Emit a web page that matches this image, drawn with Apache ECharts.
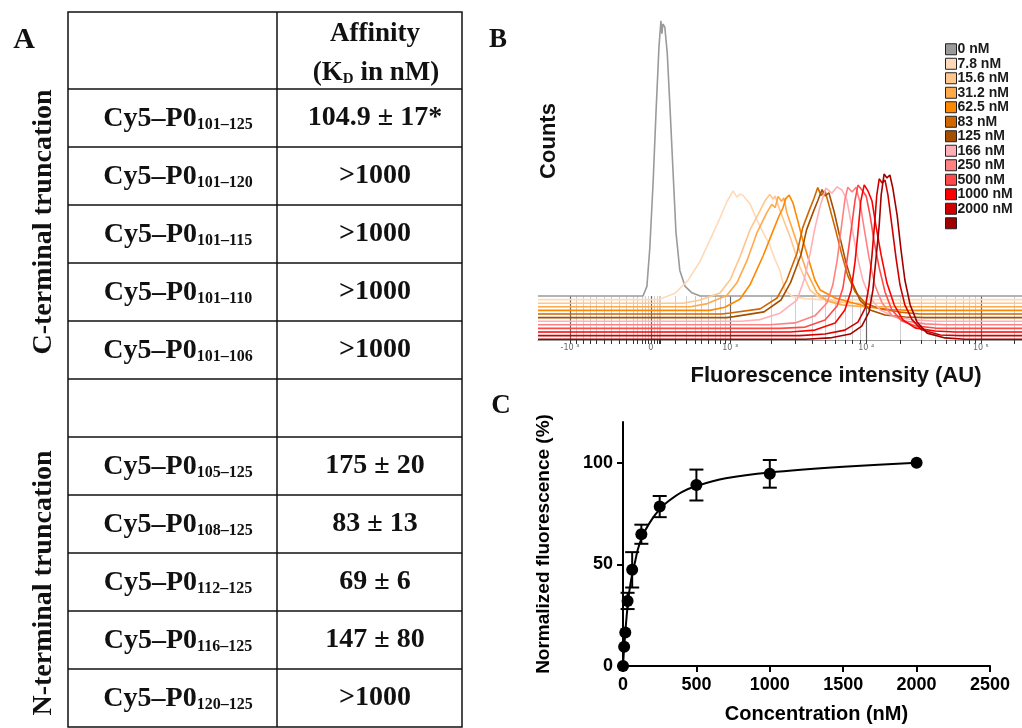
<!DOCTYPE html>
<html><head><meta charset="utf-8">
<script src="https://cdn.jsdelivr.net/npm/echarts@6/dist/echarts.min.js"></script>
<style>html,body{margin:0;padding:0;background:#fff}#c{width:1022px;height:728px}</style>
</head><body><div id="c"></div>
<script>
// ---------- Panel A: table ----------
const peptideRanges = ['101–125','101–120','101–115','101–110','101–106','','105–125','108–125','112–125','116–125','120–125'];
const affinities = ['104.9 ± 17*','>1000','>1000','>1000','>1000','','175 ± 20','83 ± 13','69 ± 6','147 ± 80','>1000'];
const groupLabels = ['C-terminal truncation','N-terminal truncation'];

// ---------- Panel B: flow cytometry histograms ----------
const concLabels = ['0 nM','7.8 nM','15.6 nM','31.2 nM','62.5 nM','83 nM','125 nM','166 nM','250 nM','500 nM','1000 nM','2000 nM'];
const histColors = ['#9a9a9a','#ffdab8','#ffc68e','#ffa94a','#ff8800','#d06600','#a64f00','#ffb0b6','#ff8282','#ff4a4a','#ff0000','#d00000','#a00000'];
// [channel, counts]
const h0     = [[0,0],[217,0],[225,3],[231,15],[238,36],[244,58],[250,78],[254,86],[256,82],[258,85],[262,84],[267,76],[273,58],[279,39],[285,20],[293,8],[304,3],[318,1],[335,0],[1000,0]];
const h1     = [[0,0],[250,0],[283,2],[310,6],[335,12],[355,18.5],[376,25.5],[390,30.5],[403,34],[411,32],[417,33],[424,32.5],[432,31],[438,30],[452,25],[465,21],[479,17],[490,12.5],[500,9],[510,3],[525,1],[552,0.3],[583,0],[1000,0]];
const h2     = [[0,0],[300,0],[335,1],[376,3.2],[397,7.3],[417,14.4],[438,22.9],[459,29],[469,32],[479,34],[486,32.5],[490,33.5],[500,29],[510,25],[521,20.7],[541,11.3],[562,4.1],[583,1.6],[614,0.5],[650,0],[1000,0]];
const h3     = [[0,0],[315,0],[350,1],[390,3.5],[411,7.5],[432,14.5],[452,23],[473,29.5],[483,32],[490,31],[496,34.5],[503,33],[508,34],[514,29.5],[524,25],[535,20],[555,11],[576,4.5],[597,1.8],[628,0.6],[670,0],[1000,0]];
const h4     = [[0,0],[355,0],[386,1],[417,3.5],[438,8],[465,17],[486,25],[498,29.5],[506,32],[512,35],[519,36],[527,33.5],[535,29],[547,22],[562,14.5],[572,9.5],[583,6.4],[614,3.9],[651,2.3],[686,1],[727,0.3],[769,0],[1000,0]];
const h5     = [[0,0],[380,0],[397,0.3],[459,1.6],[494,5],[514,10.6],[535,19],[547,27],[562,33],[570,36],[578,39.5],[585,37],[593,38.5],[603,33],[616,25.6],[628,18.4],[640,12],[655,7],[676,3.4],[707,1.6],[748,0.6],[789,0],[1000,0]];
const h6     = [[0,0],[390,0],[405,0.3],[467,1.8],[502,5.5],[522,11],[543,19.5],[555,27.5],[570,33.5],[578,36.5],[587,40],[593,38],[601,39],[612,33],[624,25],[636,17.4],[649,11],[665,5.5],[686,2.4],[717,0.8],[758,0.2],[800,0],[1000,0]];
const h7     = [[0,0],[420,0],[459,0.5],[500,2.5],[535,6.6],[550,13],[562,21],[572,29],[583,36],[595,41.6],[607,40],[618,42],[628,41],[638,38],[649,29],[659,20.7],[671,12.9],[686,7.3],[707,3.5],[738,1.3],[779,0.4],[820,0],[1000,0]];
const h8     = [[0,0],[479,0],[531,0.6],[572,2.8],[597,6.8],[609,12.4],[618,20],[626,29.6],[634,39],[640,43],[649,41.5],[657,43],[665,38.4],[674,30],[684,20.9],[696,12.4],[711,6.8],[731,3],[758,1.2],[800,0.3],[841,0],[1000,0]];
const h9     = [[0,0],[500,0],[552,0.4],[593,2.6],[618,7],[630,12.6],[638,20.8],[647,30.8],[655,40],[661,44.8],[669,43.3],[678,41.4],[686,35.4],[694,27.6],[705,18.9],[717,11.4],[731,5.8],[752,2.3],[779,0.8],[820,0.1],[851,0],[1000,0]];
const h10    = [[0,0],[521,0],[572,0.6],[614,2.8],[634,6.9],[647,13],[655,21.9],[661,31],[667,41],[674,46],[682,44],[690,41],[698,33.4],[709,24],[721,15.3],[736,8.4],[754,3.8],[779,1.3],[820,0.3],[862,0],[1000,0]];
const h11    = [[0,0],[541,0],[593,0.5],[634,1.7],[661,4.2],[676,8.6],[684,15.8],[690,25],[696,36],[700,44],[705,49],[711,47.7],[717,48.6],[723,44],[731,34.6],[740,24],[748,15.8],[758,9.6],[773,4.9],[793,1.8],[831,0.2],[872,0],[1000,0]];
const h12    = [[0,0],[552,0],[603,0.4],[645,1.6],[669,4.1],[684,8.5],[692,15.4],[698,24.7],[705,35.7],[709,45],[715,51.6],[721,50.4],[727,51.3],[733,47.3],[742,38.8],[750,27.9],[758,18.5],[769,10.7],[783,5.4],[804,1.9],[841,0.4],[882,0],[1000,0]];
const histograms = [h0,h1,h2,h3,h4,h5,h6,h7,h8,h9,h10,h11,h12];
const axisMajorTicks = [66,233,397,678,915];
const axisMajorLabels = ['-10 ³','0','10 ³','10 ⁴','10 ⁵'];
const axisMinorTicks = [78,94,107,121,136,152,168,183,196,205,215,221,227,240,246,250,252,283,307,324,338,352,366,376,386,481,531,566,593,615,634,650,665,749,791,820,843,862,878,892,903,985];

// ---------- Panel C: binding curve ----------
const concentrations = [0,7.8,15.6,31.2,62.5,125,250,500,1000,2000];
const meanFluor = [0,9.5,16.5,32,47.3,64.8,78.4,89,94.5,100];
const errFluor = [0,0,0,4,8.7,4.7,5.2,7.6,6.8,0];
const fitX = [0,5,10,20,30,40,50,62.5,80,100,125,150,200,250,300,400,500,700,1000,1500,2000];
const fitY = [0,6,11,20.5,28.5,35,40,45,50.5,57,62.5,66.5,72.5,77,80.5,85.5,88.5,92.3,95.2,98,100];

// ---------- build ----------
const SERIF = '"Liberation Serif","Times New Roman",serif';
const SANS = '"Liberation Sans",Arial,sans-serif';
const chart = echarts.init(document.getElementById('c'), null, {renderer:'canvas'});

const tableLeft=68, tableRight=462, colSplit=277, tableTop=12, headBottom=89, tableBottom=727;
const rowH=(tableBottom-headBottom)/peptideRanges.length;
const graphics=[];
graphics.push({type:'rect', shape:{x:tableLeft,y:tableTop,width:tableRight-tableLeft,height:tableBottom-tableTop}, style:{fill:'none',stroke:'#111',lineWidth:1.5}});
graphics.push({type:'line', shape:{x1:colSplit,y1:tableTop,x2:colSplit,y2:tableBottom}, style:{stroke:'#111',lineWidth:1.5}});
for(let i=0;i<peptideRanges.length;i++){
  const y=headBottom+rowH*i;
  graphics.push({type:'line', shape:{x1:tableLeft,y1:y,x2:tableRight,y2:y}, style:{stroke:'#111',lineWidth:1.5}});
}
function txt(x,y,text,size,fam,extra){
  return Object.assign({type:'text', x, y, style:{text, fontSize:size, fontFamily:fam, fontWeight:'bold', fill:'#111',
    align:'center', verticalAlign:'middle', textAlign:'center', textVerticalAlign:'middle'}}, extra||{});
}
const richSub={
  m:{fontSize:28,fontFamily:SERIF,fontWeight:'bold',lineHeight:30,verticalAlign:'bottom'},
  s:{fontSize:16,fontFamily:SERIF,fontWeight:'bold',lineHeight:19,verticalAlign:'bottom'}
};
// header
graphics.push(txt(375,34,'Affinity',27,SERIF));
const hdr=txt(376,72,'{m|(K}{s|D}{m| in nM)}',27,SERIF);
hdr.style.rich={m:{fontSize:27,fontFamily:SERIF,fontWeight:'bold',lineHeight:30,verticalAlign:'bottom'},s:{fontSize:15,fontFamily:SERIF,fontWeight:'bold',lineHeight:19,verticalAlign:'bottom'}};
graphics.push(hdr);
for(let i=0;i<peptideRanges.length;i++){
  const cy=headBottom+rowH*(i+0.5);
  if(peptideRanges[i]){
    const t=txt(178,cy,'{m|Cy5–P0}{s|'+peptideRanges[i]+'}',28,SERIF);
    t.style.rich=richSub; graphics.push(t);
  }
  if(affinities[i]) graphics.push(txt(375,cy,affinities[i],28,SERIF));
}
graphics.push(txt(44,222,groupLabels[0],28,SERIF,{rotation:Math.PI/2}));
graphics.push(txt(44,583,groupLabels[1],28,SERIF,{rotation:Math.PI/2}));
graphics.push(txt(24,40,'A',30,SERIF));
graphics.push(txt(498,40,'B',27,SERIF));
graphics.push(txt(501,406,'C',27,SERIF));
// panel B titles
graphics.push(txt(836,376,'Fluorescence intensity (AU)',22,SANS));
graphics.push(txt(549,141,'Counts',22,SANS,{rotation:Math.PI/2}));

// panel B series with waterfall offsets
const OFFSET_TOP=13.75, OFFSET_STEP=1.125;
const bSeries = histograms.map((h,i)=>{
  const off = OFFSET_TOP - OFFSET_STEP*i;
  const c = histColors[i];
  return {type:'line', name: concLabels[i] || ' ', xAxisIndex:0, yAxisIndex:0, symbol:'none', silent:true,
    color:c, itemStyle:{color:c}, lineStyle:{color:c,width:1.6}, animation:false,
    data: h.map(p=>[p[0], p[1]+off])};
});

const errData = concentrations.map((x,i)=>[x, meanFluor[i]-errFluor[i], meanFluor[i]+errFluor[i]]).filter((d,i)=>errFluor[i]>0);

const option = {
  animation:false,
  backgroundColor:'#fff',
  graphic: graphics,
  legend:{
    data: bSeries.map(s=>s.name), orient:'vertical', left:940, top:37, icon:'rect',
    itemWidth:11, itemHeight:11, itemGap:0, selectedMode:false,
    itemStyle:{borderColor:'#222',borderWidth:1},
    textStyle:{fontSize:14, fontWeight:'bold', fontFamily:SANS, color:'#1a1a1a', lineHeight:14.5, padding:[0,0,0,-4]}
  },
  grid:[
    {left:538, right:0, top:20, bottom:388},
    {left:623, right:32, top:422, bottom:62}
  ],
  xAxis:[
    {gridIndex:0, type:'value', min:0, max:1000, axisLine:{show:true,lineStyle:{color:'#999',width:1}},
     axisTick:{show:true, inside:true, length:44, customValues:axisMinorTicks, lineStyle:{color:'#cfcfcf',width:1}},
     axisLabel:{show:false}, splitLine:{show:false}},
    {gridIndex:0, type:'value', min:0, max:1000, position:'bottom', axisLine:{show:false},
     axisTick:{show:true, length:4, customValues:axisMinorTicks.concat(axisMajorTicks), lineStyle:{color:'#333',width:1}},
     axisLabel:{show:true, customValues:axisMajorTicks, formatter:v=>axisMajorLabels[axisMajorTicks.indexOf(v)]||'',
       fontSize:8, color:'#666', fontFamily:'"DejaVu Sans",sans-serif', margin:4},
     splitLine:{show:false}},
    {gridIndex:0, type:'value', min:0, max:1000, position:'bottom', axisLine:{show:false},
     axisTick:{show:true, inside:true, length:44, customValues:axisMajorTicks, lineStyle:{color:'#666',width:1.2}},
     axisLabel:{show:false}, splitLine:{show:false}},
    {gridIndex:1, type:'value', min:0, max:2500, interval:500,
     axisLine:{show:true,lineStyle:{color:'#000',width:2}},
     axisTick:{show:true,length:6,lineStyle:{color:'#000',width:2}},
     axisLabel:{fontSize:18,fontWeight:'bold',color:'#000',fontFamily:SANS,margin:10,formatter:v=>String(v)},
     splitLine:{show:false},
     name:'Concentration (nM)', nameLocation:'middle', nameGap:38,
     nameTextStyle:{fontSize:20,fontWeight:'bold',color:'#000',fontFamily:SANS,padding:[0,0,0,20]}}
  ],
  yAxis:[
    {gridIndex:0, type:'value', min:0, max:100, show:false},
    {gridIndex:1, type:'value', min:0, max:120,
     axisLine:{show:true,lineStyle:{color:'#000',width:2}},
     axisTick:{show:true,length:6,customValues:[0,50,100],lineStyle:{color:'#000',width:2}},
     axisLabel:{customValues:[0,50,100],fontSize:18,fontWeight:'bold',color:'#000',fontFamily:SANS,margin:10,formatter:v=>String(v)},
     splitLine:{show:false},
     name:'Normalized fluorescence (%)', nameLocation:'middle', nameGap:70,
     nameTextStyle:{fontSize:19,fontWeight:'bold',color:'#000',fontFamily:SANS}}
  ],
  series: bSeries.concat([
    {type:'line', name:'fit', xAxisIndex:3, yAxisIndex:1, symbol:'none', smooth:0.2, silent:true,
     lineStyle:{color:'#000',width:2}, data: fitX.map((x,i)=>[x,fitY[i]]), z:3},
    {type:'custom', name:'err', xAxisIndex:3, yAxisIndex:1, silent:true, z:3,
     encode:{x:0,y:[1,2]}, data: errData,
     renderItem:(params,api)=>{
       const x=api.value(0), lo=api.value(1), hi=api.value(2);
       const p1=api.coord([x,lo]), p2=api.coord([x,hi]); const w=7;
       const st={stroke:'#000',lineWidth:2};
       return {type:'group',children:[
         {type:'line',shape:{x1:p1[0],y1:p1[1],x2:p2[0],y2:p2[1]},style:st},
         {type:'line',shape:{x1:p1[0]-w,y1:p1[1],x2:p1[0]+w,y2:p1[1]},style:st},
         {type:'line',shape:{x1:p2[0]-w,y1:p2[1],x2:p2[0]+w,y2:p2[1]},style:st}
       ]};
     }},
    {type:'scatter', name:'mean', xAxisIndex:3, yAxisIndex:1, symbol:'circle', symbolSize:12, silent:true, z:4,
     itemStyle:{color:'#000',opacity:1}, data: concentrations.map((x,i)=>[x,meanFluor[i]])}
  ])
};
chart.setOption(option);
</script>
</body></html>
